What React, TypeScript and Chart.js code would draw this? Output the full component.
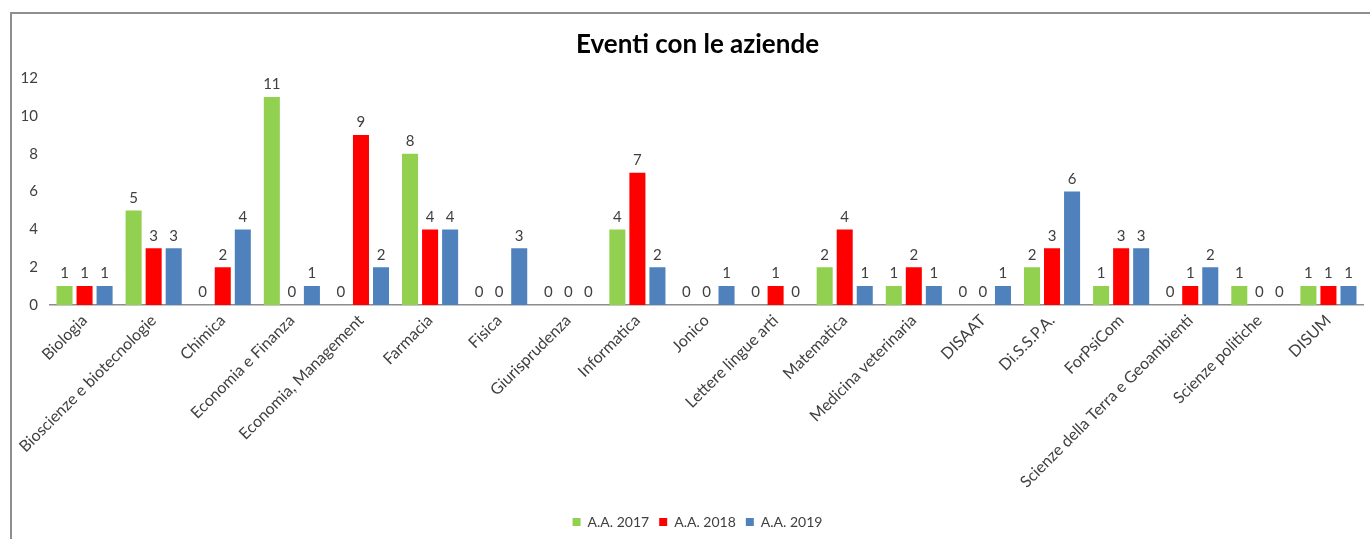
import React, { useEffect, useRef } from "react";
import { Chart, registerables } from "chart.js";

Chart.register(...registerables);

const categories = [
  "Biologia",
  "Bioscienze e biotecnologie",
  "Chimica",
  "Economia e Finanza",
  "Economia, Management",
  "Farmacia",
  "Fisica",
  "Giurisprudenza",
  "Informatica",
  "Jonico",
  "Lettere lingue arti",
  "Matematica",
  "Medicina veterinaria",
  "DISAAT",
  "Di.S.S.P.A.",
  "ForPsiCom",
  "Scienze della Terra e Geoambienti",
  "Scienze politiche",
  "DISUM",
];

const seriesNames = ["A.A. 2017", "A.A. 2018", "A.A. 2019"];
const values2017 = [1, 5, 0, 11, 0, 8, 0, 0, 4, 0, 0, 2, 1, 0, 2, 1, 0, 1, 1];
const values2018 = [1, 3, 2, 0, 9, 4, 0, 0, 7, 0, 1, 4, 2, 0, 3, 3, 1, 0, 1];
const values2019 = [1, 3, 4, 1, 2, 4, 3, 0, 2, 1, 0, 1, 1, 1, 6, 3, 2, 0, 1];
const seriesColors = ["#92D050", "#FF0000", "#4F81BD"];
const yTicks = [0, 2, 4, 6, 8, 10, 12];

const FONT = "Lato, 'Open Sans', sans-serif";
const TEXT = "#404040";

const valueLabels = {
  id: "valueLabels",
  afterDatasetsDraw(chart: any) {
    const ctx = chart.ctx;
    ctx.save();
    ctx.font = `15px ${FONT}`;
    ctx.fillStyle = TEXT;
    ctx.textAlign = "center";
    ctx.textBaseline = "bottom";
    chart.data.datasets.forEach((ds: any, i: number) => {
      const meta = chart.getDatasetMeta(i);
      meta.data.forEach((bar: any, j: number) => {
        ctx.fillText(String(ds.data[j]), bar.x, bar.y - 5);
      });
    });
    ctx.restore();
  },
};

export default function App() {
  const ref = useRef<HTMLCanvasElement | null>(null);

  useEffect(() => {
    if (!ref.current) return;
    const data = [values2017, values2018, values2019];
    const chart = new Chart(ref.current, {
      type: "bar",
      data: {
        labels: categories,
        datasets: seriesNames.map((name, i) => ({
          label: name,
          data: data[i],
          backgroundColor: seriesColors[i],
          borderWidth: 0,
          categoryPercentage: 0.87,
          barPercentage: 0.8,
        })),
      },
      options: {
        animation: false,
        responsive: false,
        maintainAspectRatio: false,
        layout: { padding: { left: 12, right: 7, top: 14, bottom: 0 } },
        plugins: {
          title: {
            display: true,
            text: "Eventi con le aziende",
            color: "#000000",
            font: { family: FONT, size: 26, weight: "bold" },
            padding: { top: 15, bottom: 18 },
          },
          legend: {
            position: "bottom",
            labels: {
              boxWidth: 8,
              boxHeight: 8,
              color: TEXT,
              font: { family: FONT, size: 14 },
              padding: 10,
            },
          },
          tooltip: { enabled: false },
        },
        scales: {
          x: {
            grid: { display: false, drawTicks: false },
            border: { display: true, color: "#8c8c8c", width: 1.5 },
            ticks: {
              color: TEXT,
              font: { family: FONT, size: 16 },
              minRotation: 45,
              maxRotation: 45,
              autoSkip: false,
              padding: 6,
            },
            afterFit: (scale: any) => {
              scale.height = 200;
            },
          },
          y: {
            min: 0,
            max: 12,
            grid: { display: false, drawTicks: false },
            border: { display: false },
            afterBuildTicks: (scale: any) => {
              scale.ticks = yTicks.map((v) => ({ value: v }));
            },
            ticks: {
              color: TEXT,
              font: { family: FONT, size: 15 },
              padding: 12,
            },
            afterFit: (scale: any) => {
              scale.width = 38;
            },
          },
          spacer: {
            type: "linear",
            position: "right",
            display: true,
            grid: { display: false, drawTicks: false },
            border: { display: false },
            ticks: { display: false },
            afterFit: (scale: any) => {
              scale.width = 20;
            },
          },
        },
      },
      plugins: [valueLabels],
    });
    return () => chart.destroy();
  }, []);

  return (
    <div
      style={{
        position: "fixed",
        left: 0,
        top: 0,
        width: 1370,
        height: 539,
        background: "#ffffff",
        overflow: "hidden",
      }}
    >
      <div
        style={{
          position: "absolute",
          left: 10,
          top: 12,
          width: 1400,
          height: 600,
          borderTop: "2px solid #8f8f8f",
          borderLeft: "2px solid #8f8f8f",
        }}
      />
      <canvas
        ref={ref}
        width={1390}
        height={539}
        style={{ position: "absolute", left: 0, top: 0, width: 1390, height: 539 }}
      />
    </div>
  );
}
